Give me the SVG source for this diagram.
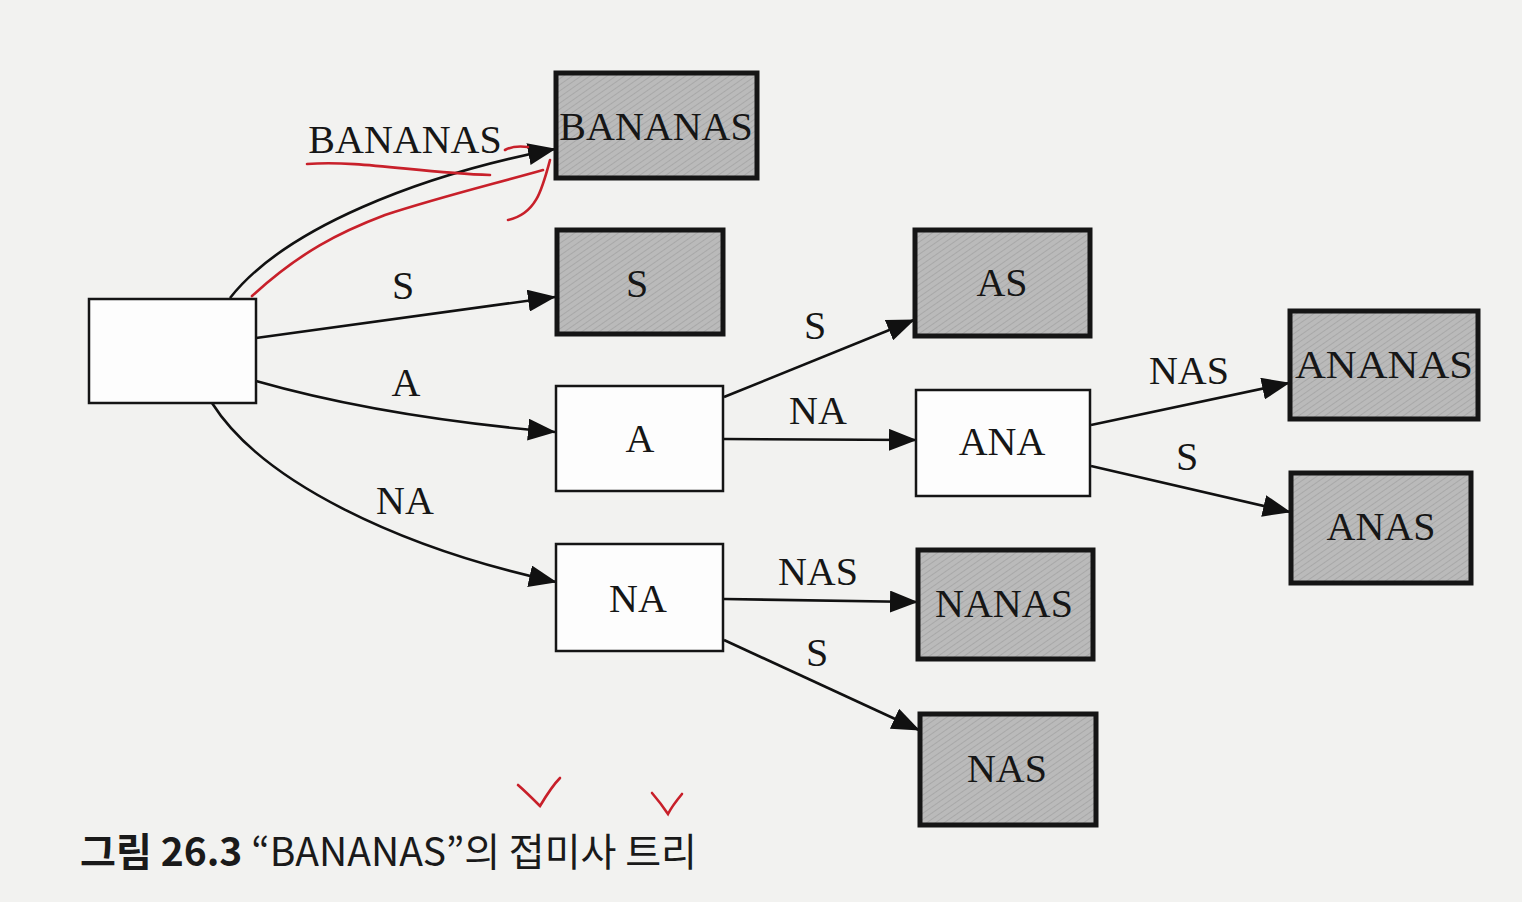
<svg xmlns="http://www.w3.org/2000/svg" width="1522" height="902" viewBox="0 0 1522 902">
<style>
.bg{fill:#f2f2f0}
.leaf{fill:url(#hatch);stroke:#151515;stroke-width:5}
.inner{fill:#fdfdfd;stroke:#151515;stroke-width:2.5}
.nt{font-family:"Liberation Serif",serif;font-size:40px;fill:#161616;text-anchor:middle}
.et{font-family:"Liberation Serif",serif;font-size:40px;fill:#161616;text-anchor:middle}
.edge{fill:none;stroke:#111;stroke-width:2.6;marker-end:url(#arr)}
.red{fill:none;stroke:#c8202a;stroke-width:2.6;stroke-linecap:round}
.cap{font-family:"Noto Sans CJK KR","Noto Sans",sans-serif;font-size:39px;fill:#1a1a1a}
</style>
<defs>
<pattern id="hatch" width="5" height="5" patternUnits="userSpaceOnUse" patternTransform="rotate(-35)">
<rect width="5" height="5" fill="#bababa"/>
<line x1="0" y1="0" x2="5" y2="0" stroke="#9c9c9c" stroke-width="1.2"/>
</pattern>
<marker id="arr" markerUnits="userSpaceOnUse" markerWidth="28" markerHeight="22" refX="27" refY="11" orient="auto" viewBox="0 0 28 22">
<path d="M0,0 L28,11 L0,22 z" fill="#111"/>
</marker>
</defs>
<rect class="bg" x="0" y="0" width="1522" height="902"/>

<g id="connectors">
<path class="edge" d="M230,298 C285,228 420,175 555,149"/>
<path class="edge" d="M256,338 L555,297"/>
<path class="edge" d="M256,381 C340,405 440,422 555,432"/>
<path class="edge" d="M212,403 C262,482 400,548 556,582"/>
<path class="edge" d="M724,397 L914,320"/>
<path class="edge" d="M724,439 L916,440"/>
<path class="edge" d="M1091,425 L1289,383"/>
<path class="edge" d="M1091,466 L1290,512"/>
<path class="edge" d="M724,599 L917,602"/>
<path class="edge" d="M724,640 L919,730"/>
<text class="et" x="405" y="153">BANANAS</text>
<text class="et" x="403" y="299">S</text>
<text class="et" x="406" y="396">A</text>
<text class="et" x="405" y="514">NA</text>
<text class="et" x="815" y="339">S</text>
<text class="et" x="818" y="424">NA</text>
<text class="et" x="1189" y="384">NAS</text>
<text class="et" x="1187" y="470">S</text>
<text class="et" x="818" y="585">NAS</text>
<text class="et" x="817" y="666">S</text>
</g>

<g id="root"><rect class="inner" x="89" y="299" width="167" height="104"/></g>
<g id="n-bananas"><rect class="leaf" x="556" y="73" width="201" height="105"/><text class="nt" x="656" y="140">BANANAS</text></g>
<g id="n-s"><rect class="leaf" x="557" y="230" width="166" height="104"/><text class="nt" x="637" y="297">S</text></g>
<g id="n-a"><rect class="inner" x="556" y="386" width="167" height="105"/><text class="nt" x="640" y="452">A</text></g>
<g id="n-na"><rect class="inner" x="556" y="544" width="167" height="107"/><text class="nt" x="638" y="612">NA</text></g>
<g id="n-as"><rect class="leaf" x="915" y="230" width="175" height="106"/><text class="nt" x="1002" y="296">AS</text></g>
<g id="n-ana"><rect class="inner" x="916" y="390" width="174" height="106"/><text class="nt" x="1002" y="455">ANA</text></g>
<g id="n-nanas"><rect class="leaf" x="918" y="550" width="175" height="109"/><text class="nt" x="1004" y="617">NANAS</text></g>
<g id="n-nas"><rect class="leaf" x="920" y="714" width="176" height="111"/><text class="nt" x="1007" y="782">NAS</text></g>
<g id="n-ananas"><rect class="leaf" x="1290" y="311" width="188" height="108"/><text class="nt" x="1384" y="378" textLength="178" lengthAdjust="spacingAndGlyphs">ANANAS</text></g>
<g id="n-anas"><rect class="leaf" x="1291" y="473" width="180" height="110"/><text class="nt" x="1381" y="540">ANAS</text></g>

<g id="annotations">
<path class="red" d="M307,164 C360,160 420,173 490,175"/>
<path class="red" d="M505,150 C512,146 520,146 528,147"/>
<path class="red" d="M252,296 C300,252 340,232 385,215 C440,197 490,185 543,170"/>
<path class="red" d="M508,220 C536,214 542,190 550,160"/>
<path class="red" d="M518,785 C526,792 534,800 540,806 C546,796 552,786 560,778"/>
<path class="red" d="M652,793 C658,800 664,808 668,814 C672,806 677,800 682,794"/>
</g>

<text class="cap" x="80" y="866" textLength="617" lengthAdjust="spacingAndGlyphs"><tspan font-weight="bold">그림 26.3</tspan> “BANANAS”의 접미사 트리</text>
</svg>
